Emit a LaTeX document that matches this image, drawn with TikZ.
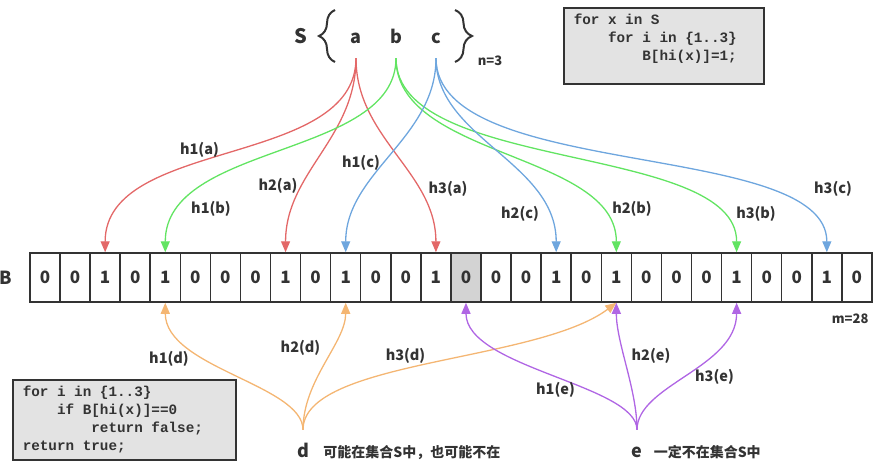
\documentclass[tikz,border=0pt]{standalone}
\usepackage{fontspec}
\setmainfont{Noto Sans CJK SC}
\newfontfamily\codefont{Liberation Mono}
\newcommand\codesp{\spaceskip=0.6em\xspaceskip=0.6em\relax}
\usepackage{tikz}
\usetikzlibrary{positioning,arrows.meta,decorations.pathreplacing}
\definecolor{ink}{HTML}{333333}
\definecolor{hred}{HTML}{E36868}
\definecolor{hgreen}{HTML}{62E462}
\definecolor{hblue}{HTML}{6EA6DE}
\definecolor{horange}{HTML}{F4B673}
\definecolor{hpurple}{HTML}{B066E4}
\definecolor{shade}{HTML}{D3D3D3}
\definecolor{codebg}{HTML}{E3E3E3}
\tikzstyle{cell} = [rectangle, draw=ink, line width=1.5pt, minimum width=30.07pt, minimum height=49pt, inner sep=0pt, text=ink, font=\fontsize{17}{17}\selectfont\bfseries]
\tikzstyle{item} = [inner sep=1pt, text height=12pt, text depth=0pt, minimum height=42pt, text=ink, font=\fontsize{18}{18}\selectfont\bfseries]
\tikzstyle{hlabel} = [inner sep=0pt, text=ink, font=\fontsize{14.5}{15}\selectfont\bfseries]
\tikzstyle{note} = [inner sep=0pt, text=ink, font=\fontsize{14}{14}\selectfont\bfseries]
\tikzstyle{small} = [inner sep=0pt, text=ink, font=\fontsize{13}{13}\selectfont\bfseries]
\tikzstyle{codebox} = [rectangle, draw=ink, line width=1.5pt, fill=codebg, anchor=north west, align=left, inner xsep=10pt, inner ysep=0pt, text=ink, font=\codefont\bfseries\fontsize{14.3}{18}\selectfont]
\tikzstyle{setbrace} = [draw=ink, line width=2pt, decorate]
\tikzstyle{hashline} = [line width=1.3pt, -{Triangle[width=9pt,length=11pt]}]

\begin{document}
\begin{tikzpicture}[x=1pt, y=-1pt]
   \useasboundingbox (0,0) rectangle (882,475);

   % the set S
   \node[item, font=\fontsize{20}{20}\selectfont\bfseries] (S) at (301,37) {S};
   \node[item] (a) at (356,37) {a};
   \node[item] (b) at (396,37) {b};
   \node[item] (c) at (436,37) {c};
   \draw[setbrace, decoration={brace, amplitude=16pt}] (335,62) -- (335,10);
   \draw[setbrace, decoration={brace, amplitude=17pt}] (455,10) -- (455,62);
   \node[small] (n) at (490,61) {n=3};

   % bit array B
   \foreach \v [count=\i from 0] in {0,0,1,0,1,0,0,0,1,0,1,0,0,1,0,0,0,1,0,1,0,0,0,1,0,0,1,0} {
      \ifnum\i=14 \def\cf{shade}\else\def\cf{white}\fi
      \node[cell, fill=\cf] (c\i) at (45+30.07*\i, 277.5) {\v};
   }
   \node[item, minimum height=0pt, text height=13pt, left=16pt of c0] (B) {B};
   \node[small, anchor=north east] (m) at ([xshift=-4pt, yshift=-11pt]c27.south east) {m=28};

   % code
   \node[codebox, text width=180pt, minimum height=76pt] (insert) at (563,7)
      {\codesp for x in S\\\phantom{abcd}for i in \{1..3\}\\\phantom{abcdefgh}B[hi(x)]=1;\\\mbox{}};
   \node[codebox, text width=203pt, minimum height=80pt] (query) at (12,379)
      {\codesp for i in \{1..3\}\\\phantom{abcd}if B[hi(x)]==0\\\phantom{abcdefgh}return false;\\return true;};

   % insert a, b, c
   \draw[hashline, hred] (a.south) .. controls +(0,110) and +(0,-115) .. (c2.north);
   \draw[hashline, hred] (a.south) .. controls +(0,80) and +(0,-80) .. (c8.north);
   \draw[hashline, hred] (a.south) .. controls +(0,80) and +(0,-80) .. (c13.north);
   \draw[hashline, hgreen] (b.south) .. controls +(0,100) and +(0,-110) .. (c4.north);
   \draw[hashline, hgreen] (b.south) .. controls +(0,100) and +(0,-100) .. (c19.north);
   \draw[hashline, hgreen] (b.south) .. controls +(0,115) and +(0,-110) .. (c23.north);
   \draw[hashline, hblue] (c.south) .. controls +(0,80) and +(0,-80) .. (c10.north);
   \draw[hashline, hblue] (c.south) .. controls +(0,80) and +(0,-90) .. (c17.north);
   \draw[hashline, hblue] (c.south) .. controls +(0,123) and +(0,-113) .. (c26.north);
   \node[hlabel] (h1a) at (199.5,150) {h1(a)};
   \node[hlabel] (h2a) at (278,186) {h2(a)};
   \node[hlabel] (h3a) at (448,189) {h3(a)};
   \node[hlabel] (h1b) at (211,209) {h1(b)};
   \node[hlabel] (h2b) at (632,209) {h2(b)};
   \node[hlabel] (h3b) at (756,214) {h3(b)};
   \node[hlabel] (h1c) at (361,163) {h1(c)};
   \node[hlabel] (h2c) at (520,214) {h2(c)};
   \node[hlabel] (h3c) at (833,189) {h3(c)};

   % query d, e
   \node[item] (d) at (303,451) {d};
   \node[item] (e) at (637,451) {e};
   \node[note, base right=13pt of d] (dnote) {可能在集合S中，也可能不在};
   \node[note, base right=10pt of e] (enote) {一定不在集合S中};
   \draw[hashline, horange] (d.north) .. controls +(0,-45) and +(0,65) .. (c4.south);
   \draw[hashline, horange] (d.north) .. controls +(0,-50) and +(0,40) .. (c10.south);
   \draw[hashline, horange] (d.north) .. controls +(0,-70) and +(-80,60) .. (c19.south);
   \draw[hashline, hpurple] (e.north) .. controls +(0,-45) and +(0,65) .. (c14.south);
   \draw[hashline, hpurple] (e.north) .. controls +(0,-40) and +(0,40) .. (c19.south);
   \draw[hashline, hpurple] (e.north) .. controls +(0,-45) and +(0,65) .. (c23.south);
   \node[hlabel] (h1d) at (169,359) {h1(d)};
   \node[hlabel] (h2d) at (300.5,347.5) {h2(d)};
   \node[hlabel] (h3d) at (405.5,356) {h3(d)};
   \node[hlabel] (h1e) at (555.5,390) {h1(e)};
   \node[hlabel] (h2e) at (651,356) {h2(e)};
   \node[hlabel] (h3e) at (714.5,377) {h3(e)};
\end{tikzpicture}
\end{document}
